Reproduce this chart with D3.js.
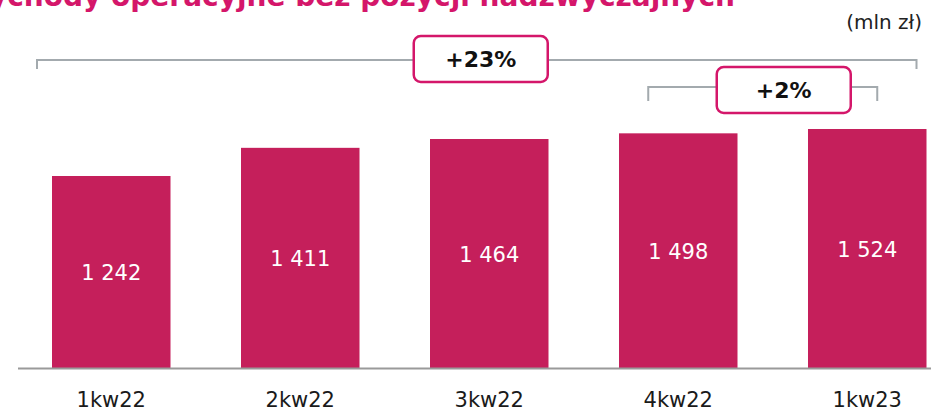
<!DOCTYPE html>
<html>
<head>
  <meta charset="utf-8">
  <title>Przychody operacyjne</title>
  <script src="https://d3js.org/d3.v7.min.js"></script>
  <style>
    body { margin: 0; background: #fff; font-family: "DejaVu Sans", sans-serif; }
    svg { display: block; }
  </style>
</head>
<body>
  <svg width="931" height="411"></svg>

  <script>
    const quarters = ["1kw22", "2kw22", "3kw22", "4kw22", "1kw23"];
    const income = [1242, 1411, 1464, 1498, 1524];
    const valueLabels = ["1 242", "1 411", "1 464", "1 498", "1 524"];
    const changeLabels = ["+23%", "+2%"];

    const svg = d3.select("svg");
    const barColor = "#c51f5b";
    const accent = "#d4166a";
    const grey = "#a3aaae";

    const x = d3.scaleBand().domain(quarters).range([52, 926.5]).paddingInner(0.373).paddingOuter(0);
    const y = d3.scaleLinear().domain([90, 1524]).range([368, 129]);

    // title (cut off at top of the picture)
    svg.append("text")
      .attr("x", 735).attr("y", 6)
      .attr("text-anchor", "end")
      .attr("font-size", 28).attr("font-weight", "bold")
      .attr("fill", accent)
      .text("Przychody operacyjne bez pozycji nadzwyczajnych");

    svg.append("text")
      .attr("x", 922).attr("y", 29)
      .attr("text-anchor", "end")
      .attr("font-size", 20).attr("fill", "#222")
      .text("(mln zł)");

    // bars
    svg.selectAll("rect.bar").data(income).enter().append("rect")
      .attr("class", "bar")
      .attr("x", (d, i) => x(quarters[i]))
      .attr("y", d => y(d))
      .attr("width", x.bandwidth())
      .attr("height", d => y.range()[0] - y(d))
      .attr("fill", barColor);

    svg.selectAll("text.val").data(income).enter().append("text")
      .attr("class", "val")
      .attr("x", (d, i) => x(quarters[i]) + x.bandwidth() / 2)
      .attr("y", d => (y(d) + y.range()[0]) / 2 + 8)
      .attr("text-anchor", "middle")
      .attr("font-size", 21).attr("fill", "#fff")
      .text((d, i) => valueLabels[i]);

    // baseline + category labels
    svg.append("line")
      .attr("x1", 18).attr("x2", 931)
      .attr("y1", 368.5).attr("y2", 368.5)
      .attr("stroke", "#9a9a9a").attr("stroke-width", 2);

    svg.selectAll("text.cat").data(quarters).enter().append("text")
      .attr("class", "cat")
      .attr("x", d => x(d) + x.bandwidth() / 2)
      .attr("y", 407)
      .attr("text-anchor", "middle")
      .attr("font-size", 21).attr("fill", "#1a1a1a")
      .text(d => d);

    // change brackets
    const brackets = [
      { x1: x(quarters[0]) - 15, x2: x(quarters[4]) + x.bandwidth() - 10, y: 60, drop: 9, label: changeLabels[0], boxY: 36, shift: 4 },
      { x1: x(quarters[3]) + x.bandwidth() / 2 - 30, x2: x(quarters[4]) + x.bandwidth() / 2 + 10, y: 87, drop: 14, label: changeLabels[1], boxY: 67, shift: 21 }
    ];
    const boxW = 134, boxH = 46;

    brackets.forEach(b => {
      svg.append("path")
        .attr("d", `M${b.x1},${b.y + b.drop}V${b.y}H${b.x2}V${b.y + b.drop}`)
        .attr("fill", "none").attr("stroke", grey).attr("stroke-width", 2);
      const cx = (b.x1 + b.x2) / 2 + b.shift;
      svg.append("rect")
        .attr("x", cx - boxW / 2).attr("y", b.boxY)
        .attr("width", boxW).attr("height", boxH)
        .attr("rx", 7)
        .attr("fill", "#fff").attr("stroke", accent).attr("stroke-width", 2.5);
      svg.append("text")
        .attr("x", cx).attr("y", b.boxY + boxH / 2 + 8)
        .attr("text-anchor", "middle")
        .attr("font-size", 22).attr("font-weight", "bold").attr("fill", "#111")
        .text(b.label);
    });
  </script>
</body>
</html>
